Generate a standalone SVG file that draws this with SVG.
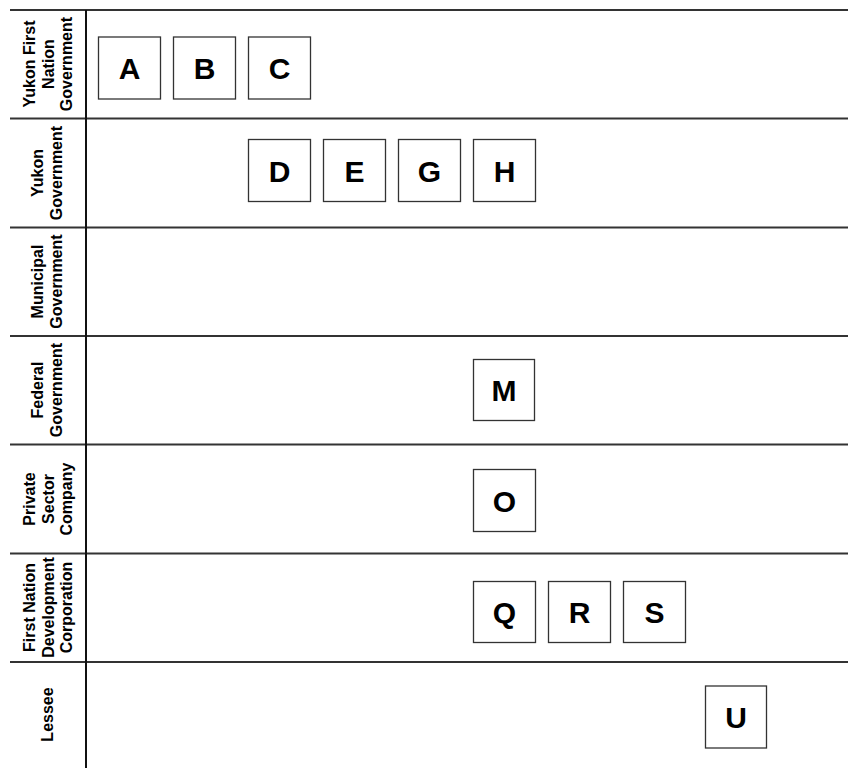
<svg xmlns="http://www.w3.org/2000/svg" width="848" height="768" viewBox="0 0 848 768">
<style>
.lane{stroke:#333;stroke-width:2;fill:none}
.box rect{fill:#fff;stroke:#333;stroke-width:1.3}
.box text{font-family:"Liberation Sans",Arial,sans-serif;font-weight:bold;font-size:30px;fill:#000;text-anchor:middle}
.lbl{font-family:"Liberation Sans",Arial,sans-serif;font-weight:bold;font-size:16px;fill:#000;text-anchor:middle}
</style>
<rect width="848" height="768" fill="#fff"/>
<g id="lanes">
<line class="lane" x1="10" y1="10" x2="848" y2="10"/>
<line class="lane" x1="10" y1="118.5" x2="848" y2="118.5"/>
<line class="lane" x1="10" y1="227.5" x2="848" y2="227.5"/>
<line class="lane" x1="10" y1="336" x2="848" y2="336"/>
<line class="lane" x1="10" y1="444.5" x2="848" y2="444.5"/>
<line class="lane" x1="10" y1="553.5" x2="848" y2="553.5"/>
<line class="lane" x1="10" y1="662" x2="848" y2="662"/>
<line x1="86" y1="10" x2="86" y2="768" stroke="#111" stroke-width="2"/>
</g>
<g id="labels">
<text class="lbl" transform="translate(35,64) rotate(-90)">Yukon First</text>
<text class="lbl" transform="translate(53.5,64) rotate(-90)">Nation</text>
<text class="lbl" transform="translate(72,64) rotate(-90)">Government</text>
<text class="lbl" transform="translate(43,173) rotate(-90)">Yukon</text>
<text class="lbl" transform="translate(62,173) rotate(-90)">Government</text>
<text class="lbl" transform="translate(43,281.5) rotate(-90)">Municipal</text>
<text class="lbl" transform="translate(62,281.5) rotate(-90)">Government</text>
<text class="lbl" transform="translate(43,390) rotate(-90)">Federal</text>
<text class="lbl" transform="translate(62,390) rotate(-90)">Government</text>
<text class="lbl" transform="translate(35,499) rotate(-90)">Private</text>
<text class="lbl" transform="translate(53.5,499) rotate(-90)">Sector</text>
<text class="lbl" transform="translate(72,499) rotate(-90)">Company</text>
<text class="lbl" transform="translate(35,607.5) rotate(-90)">First Nation</text>
<text class="lbl" transform="translate(53.5,607.5) rotate(-90)">Development</text>
<text class="lbl" transform="translate(72,607.5) rotate(-90)">Corporation</text>
<text class="lbl" transform="translate(53,714.5) rotate(-90)">Lessee</text>
</g>
<g id="connectors"></g>
<g id="A" class="box"><rect x="98.5" y="37" width="62" height="62"/><text x="129.5" y="79">A</text></g>
<g id="B" class="box"><rect x="173.5" y="37" width="62" height="62"/><text x="204.5" y="79">B</text></g>
<g id="C" class="box"><rect x="248.5" y="37" width="62" height="62"/><text x="279.5" y="79">C</text></g>
<g id="D" class="box"><rect x="248.5" y="139.5" width="62" height="62"/><text x="279.5" y="181.5">D</text></g>
<g id="E" class="box"><rect x="323.5" y="139.5" width="62" height="62"/><text x="354.5" y="181.5">E</text></g>
<g id="G" class="box"><rect x="398.5" y="139.5" width="62" height="62"/><text x="429.5" y="181.5">G</text></g>
<g id="H" class="box"><rect x="473.5" y="139.5" width="62" height="62"/><text x="504.5" y="181.5">H</text></g>
<g id="M" class="box"><rect x="473.5" y="359.5" width="61" height="61"/><text x="504" y="401">M</text></g>
<g id="O" class="box"><rect x="473.5" y="469.5" width="62" height="62"/><text x="504.5" y="511.5">O</text></g>
<g id="Q" class="box"><rect x="473.5" y="581.5" width="62" height="61"/><text x="504.5" y="623">Q</text></g>
<g id="R" class="box"><rect x="548.5" y="581.5" width="62" height="61"/><text x="579.5" y="623">R</text></g>
<g id="S" class="box"><rect x="623.5" y="581.5" width="62" height="61"/><text x="654.5" y="623">S</text></g>
<g id="U" class="box"><rect x="705.5" y="686" width="61" height="62"/><text x="736" y="728">U</text></g>
</svg>
